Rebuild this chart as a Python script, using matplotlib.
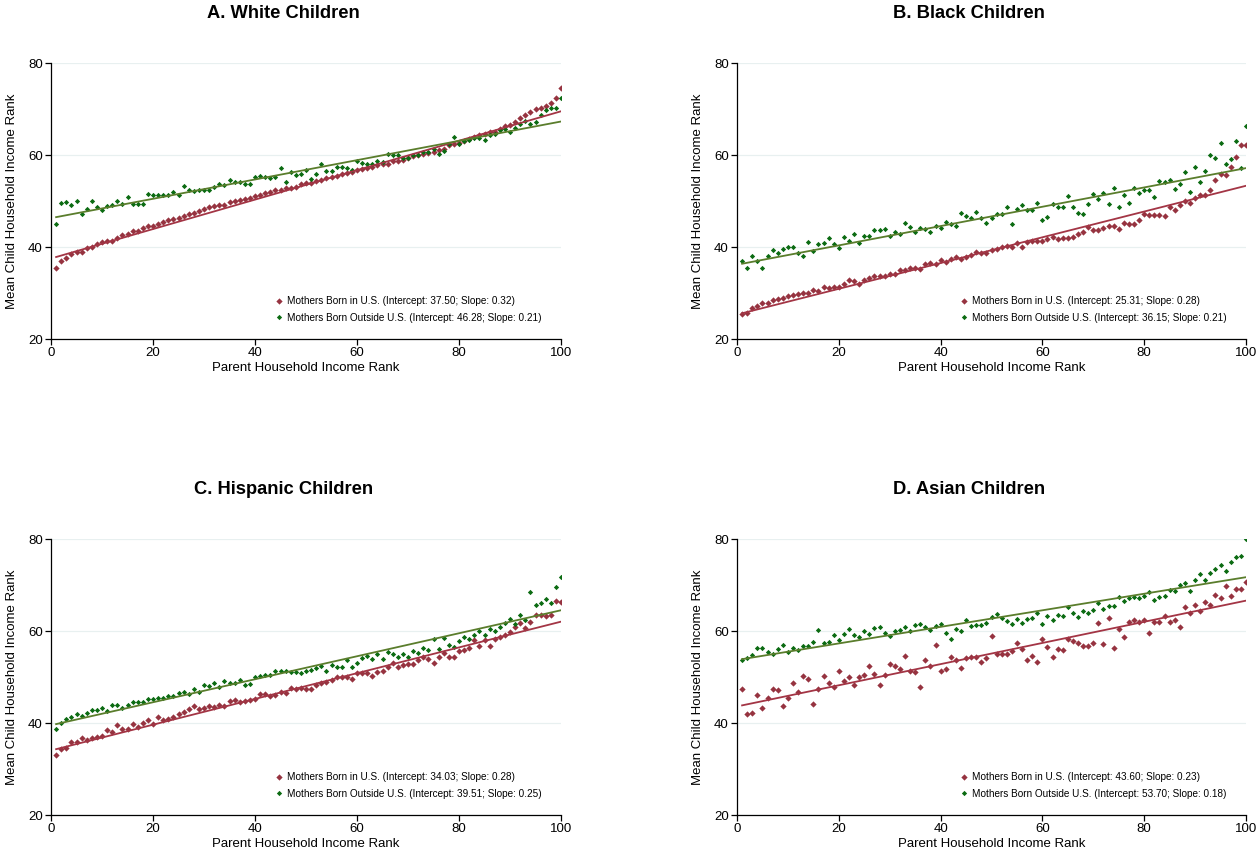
import numpy as np
import matplotlib
matplotlib.use('Agg')
import matplotlib.pyplot as plt

plt.rcParams['font.family'] = ['Liberation Sans', 'DejaVu Sans']

# parent income rank (x) is 1..100 for every series
ranks = np.arange(1, 101)

titles = ['A. White Children', 'B. Black Children', 'C. Hispanic Children', 'D. Asian Children']

# mean child household income rank, mothers born in U.S.
white_us = [35.4, 36.9, 37.7, 38.4, 38.9, 39.0, 39.7, 39.9, 40.7, 41.0,
            41.2, 41.4, 42.0, 42.6, 42.8, 43.5, 43.5, 44.1, 44.5, 44.6,
            45.0, 45.4, 45.9, 46.1, 46.4, 46.7, 47.2, 47.5, 47.8, 48.3,
            48.6, 48.9, 49.1, 49.1, 49.7, 49.9, 50.3, 50.4, 50.7, 51.1,
            51.3, 51.7, 52.0, 52.3, 52.5, 52.8, 52.9, 53.0, 53.6, 53.9,
            53.9, 54.3, 54.6, 54.9, 55.2, 55.5, 55.8, 56.1, 56.4, 56.7,
            56.9, 57.2, 57.4, 57.8, 58.0, 58.1, 58.6, 58.6, 59.0, 59.3,
            59.7, 60.0, 60.3, 60.4, 60.7, 61.0, 61.4, 62.2, 62.5, 62.6,
            63.0, 63.5, 63.9, 64.3, 64.6, 64.9, 65.1, 65.7, 66.2, 66.5,
            67.2, 68.0, 68.6, 69.3, 70.0, 70.3, 70.7, 71.3, 72.5, 74.6]
black_us = [25.4, 25.6, 26.7, 27.2, 27.8, 27.9, 28.4, 28.6, 29.0, 29.4,
            29.6, 29.7, 30.1, 29.9, 30.6, 30.4, 31.2, 31.0, 31.4, 31.4,
            32.0, 32.8, 32.6, 32.0, 32.8, 33.3, 33.8, 33.8, 33.8, 34.1,
            34.2, 35.0, 35.1, 35.4, 35.5, 35.2, 36.2, 36.5, 36.2, 37.1,
            36.8, 37.4, 37.8, 37.4, 37.8, 38.3, 39.0, 38.6, 38.7, 39.4,
            39.5, 40.0, 40.2, 39.9, 40.9, 40.1, 41.0, 41.3, 41.4, 41.3,
            41.7, 42.2, 41.7, 42.0, 41.9, 42.1, 42.8, 43.3, 44.3, 43.6,
            43.6, 44.2, 44.6, 44.5, 43.9, 45.3, 45.1, 44.9, 45.8, 47.1,
            46.9, 47.0, 47.0, 46.8, 48.6, 48.1, 49.1, 50.1, 49.6, 50.6,
            51.3, 51.3, 52.4, 54.5, 55.8, 55.7, 57.4, 59.6, 62.2, 62.2]
hispanic_us = [33.0, 34.4, 34.6, 35.9, 35.9, 36.7, 36.4, 36.7, 37.0, 37.2,
               38.4, 38.1, 39.5, 38.8, 38.8, 39.7, 39.2, 39.9, 40.6, 39.8,
               41.3, 40.6, 40.9, 41.4, 42.0, 42.3, 43.1, 43.6, 43.1, 43.2,
               43.7, 43.5, 43.9, 43.6, 44.7, 44.9, 44.5, 44.8, 45.1, 45.2,
               46.2, 46.2, 45.9, 46.0, 46.7, 46.6, 47.6, 47.3, 47.6, 47.3,
               47.4, 48.3, 48.8, 48.9, 49.3, 50.1, 49.9, 50.1, 49.5, 50.8,
               50.8, 50.9, 50.2, 51.1, 51.4, 52.2, 53.1, 52.1, 52.7, 52.8,
               52.8, 53.6, 54.3, 54.0, 53.1, 54.3, 55.3, 54.4, 54.4, 55.6,
               55.9, 56.2, 58.0, 56.7, 58.0, 56.7, 58.3, 58.8, 59.2, 59.8,
               60.9, 61.8, 60.7, 62.0, 63.4, 63.4, 63.3, 63.4, 66.6, 66.4]
asian_us = [47.3, 42.0, 42.2, 46.1, 43.2, 45.4, 47.5, 47.2, 43.6, 45.4,
            48.8, 46.7, 50.2, 49.5, 44.1, 47.5, 50.2, 48.8, 47.8, 51.2,
            49.2, 50.1, 48.2, 49.9, 50.4, 52.5, 50.7, 48.2, 50.4, 52.9,
            52.4, 51.8, 54.6, 51.3, 51.0, 47.8, 53.8, 52.4, 56.9, 51.4,
            51.7, 54.4, 53.6, 52.0, 54.2, 54.4, 54.4, 53.3, 54.2, 58.9,
            54.9, 55.1, 55.0, 55.6, 57.5, 56.0, 53.7, 54.6, 53.3, 58.2,
            56.6, 54.4, 56.0, 55.8, 58.3, 57.8, 57.5, 56.7, 56.7, 57.3,
            61.8, 57.2, 62.9, 56.2, 60.5, 58.7, 62.0, 62.4, 62.0, 62.3,
            59.5, 62.0, 62.0, 63.2, 62.0, 62.5, 60.8, 65.2, 64.0, 65.6,
            64.3, 66.2, 65.7, 67.8, 67.1, 69.8, 67.7, 69.2, 69.1, 70.7]

# mean child household income rank, mothers born outside U.S.
white_foreign = [45.1, 49.5, 49.7, 49.1, 49.9, 47.2, 48.3, 50.0, 48.7, 48.1,
                 49.0, 49.1, 49.9, 49.4, 50.9, 49.4, 49.4, 49.4, 51.6, 51.4,
                 51.2, 51.3, 51.3, 52.0, 51.4, 53.3, 52.5, 52.2, 52.5, 52.5,
                 52.3, 53.0, 53.8, 53.5, 54.5, 54.1, 54.1, 53.8, 53.6, 55.2,
                 55.5, 55.2, 55.1, 55.2, 57.1, 54.2, 56.2, 55.7, 55.8, 56.7,
                 54.8, 55.9, 58.0, 56.5, 56.5, 57.5, 57.5, 57.2, 56.8, 58.6,
                 58.3, 58.1, 58.1, 58.7, 58.4, 60.3, 60.0, 60.1, 59.3, 59.3,
                 60.0, 60.1, 60.6, 60.6, 61.4, 60.3, 60.9, 62.5, 63.9, 62.3,
                 63.0, 63.3, 63.6, 63.6, 63.3, 64.3, 64.6, 65.4, 65.7, 64.9,
                 65.8, 66.8, 67.4, 66.8, 67.2, 68.7, 69.7, 70.3, 70.3, 72.5]
black_foreign = [37.0, 35.5, 38.1, 37.0, 35.5, 38.1, 39.3, 38.6, 39.5, 39.9,
                 39.9, 38.6, 38.0, 41.0, 39.2, 40.7, 40.8, 41.9, 40.7, 39.7,
                 42.2, 41.3, 42.8, 40.8, 42.5, 42.5, 43.8, 43.6, 44.0, 42.5,
                 43.3, 42.8, 45.3, 44.3, 43.3, 44.1, 43.9, 43.3, 44.6, 44.2,
                 45.4, 45.0, 44.6, 47.3, 46.7, 46.4, 47.7, 46.2, 45.3, 46.4,
                 47.1, 47.2, 48.6, 45.1, 48.2, 49.1, 48.0, 48.0, 49.6, 45.8,
                 46.5, 49.3, 48.7, 48.7, 51.0, 48.8, 47.5, 47.2, 49.3, 51.6,
                 50.4, 51.7, 49.4, 52.8, 48.8, 51.2, 49.6, 52.8, 51.8, 52.3,
                 52.5, 50.9, 54.4, 54.1, 54.5, 52.6, 53.6, 56.4, 51.9, 57.3,
                 54.2, 56.5, 60.1, 59.3, 62.7, 58.0, 59.1, 63.0, 57.2, 66.3]
hispanic_foreign = [38.6, 40.1, 40.9, 41.2, 41.9, 41.6, 42.2, 42.8, 42.8, 43.3,
                    42.6, 44.0, 44.0, 43.2, 44.0, 44.6, 44.6, 44.6, 45.3, 45.2,
                    45.5, 45.5, 45.9, 45.9, 46.6, 46.7, 46.2, 47.5, 46.7, 48.2,
                    48.0, 48.6, 47.8, 49.2, 48.8, 48.8, 49.3, 48.3, 48.5, 50.1,
                    50.3, 50.5, 50.5, 51.4, 51.4, 51.4, 51.1, 51.1, 50.8, 51.4,
                    51.5, 52.0, 52.4, 51.4, 52.7, 52.2, 52.1, 53.7, 52.2, 53.1,
                    54.1, 54.6, 54.0, 55.1, 54.0, 55.4, 54.9, 54.4, 55.0, 54.4,
                    55.7, 55.3, 56.2, 55.9, 58.3, 56.0, 58.5, 56.9, 56.6, 57.8,
                    58.8, 58.2, 59.1, 60.1, 59.1, 60.5, 59.9, 60.9, 61.8, 62.7,
                    61.5, 63.4, 62.4, 68.5, 65.7, 66.0, 66.9, 66.0, 69.6, 71.8]
asian_foreign = [53.8, 54.2, 54.7, 56.3, 56.3, 55.5, 55.1, 56.1, 57.0, 55.5,
                 56.2, 55.8, 56.7, 56.7, 57.7, 60.2, 57.5, 57.6, 59.1, 58.0,
                 59.4, 60.5, 59.1, 58.8, 59.9, 59.4, 60.7, 60.8, 59.5, 59.0,
                 60.1, 60.2, 60.9, 60.1, 61.3, 61.5, 60.8, 60.2, 61.1, 61.5,
                 59.5, 58.3, 60.5, 60.1, 62.4, 61.1, 61.4, 61.3, 61.8, 63.0,
                 63.6, 62.8, 62.2, 61.6, 62.7, 61.8, 62.7, 62.9, 63.9, 61.6,
                 63.3, 62.5, 63.5, 63.3, 65.3, 64.0, 63.1, 64.3, 64.0, 64.6,
                 66.1, 64.7, 65.4, 65.4, 67.5, 66.5, 67.2, 67.5, 67.2, 67.6,
                 68.5, 66.8, 67.4, 67.7, 68.9, 68.8, 70.1, 70.5, 68.8, 71.1,
                 72.5, 71.1, 72.6, 73.4, 74.3, 73.1, 75.1, 76.0, 76.4, 79.9]

us_series = [white_us, black_us, hispanic_us, asian_us]
foreign_series = [white_foreign, black_foreign, hispanic_foreign, asian_foreign]

# fitted lines, as reported in the legends
us_intercepts = [37.50, 25.31, 34.03, 43.60]
us_slopes = [0.32, 0.28, 0.28, 0.23]
foreign_intercepts = [46.28, 36.15, 39.51, 53.70]
foreign_slopes = [0.21, 0.21, 0.25, 0.18]

red_pt = '#963340'
red_ln = '#a33545'
green_pt = '#0b6b12'
green_ln = '#5a7d2c'
grid_c = '#e8f0f0'

W, H = 1256, 857
fig = plt.figure(figsize=(W / 100, H / 100), dpi=100)

# axes boxes in pixels: left, right, top, bottom
boxes = [(51, 561, 63, 339), (737, 1246, 63, 339),
         (51, 561, 539, 815), (737, 1246, 539, 815)]

for i in range(4):
    l, r, t, b = boxes[i]
    ax = fig.add_axes([l / W, 1 - b / H, (r - l) / W, (b - t) / H])

    ax.plot(ranks, us_series[i], linestyle='none', marker='D', markersize=3.2,
            color=red_pt, markeredgewidth=0,
            label='Mothers Born in U.S. (Intercept: %.2f; Slope: %.2f)' % (us_intercepts[i], us_slopes[i]))
    ax.plot(ranks, foreign_series[i], linestyle='none', marker='D', markersize=2.7,
            color=green_pt, markeredgewidth=0,
            label='Mothers Born Outside U.S. (Intercept: %.2f; Slope: %.2f)' % (foreign_intercepts[i], foreign_slopes[i]))
    ax.plot(ranks, us_intercepts[i] + us_slopes[i] * ranks, color=red_ln, lw=1.3)
    ax.plot(ranks, foreign_intercepts[i] + foreign_slopes[i] * ranks, color=green_ln, lw=1.3)

    ax.set_xlim(0, 100)
    ax.set_ylim(20, 80)
    ax.set_xticks([0, 20, 40, 60, 80, 100])
    ax.set_yticks([20, 40, 60, 80])
    ax.grid(axis='y', color=grid_c, lw=0.9)
    ax.set_axisbelow(True)
    for s in ['top', 'right']:
        ax.spines[s].set_visible(False)
    ax.spines['left'].set_linewidth(0.9)
    ax.spines['bottom'].set_linewidth(0.9)
    ax.tick_params(labelsize=9.5, length=4, width=0.9, pad=2)
    ax.set_xlabel('Parent Household Income Rank', fontsize=9.5)
    ax.set_ylabel('Mean Child Household Income Rank', fontsize=9.5)
    ax.xaxis.set_label_coords(0.5, -0.083)
    ax.yaxis.set_label_coords(-0.064, 0.5)

    ax.legend(loc='lower left', bbox_to_anchor=(0.43, 0.04), frameon=False,
              fontsize=7.2, handlelength=0.7, handletextpad=0.45,
              labelspacing=0.65, borderpad=0, markerscale=1.0)

    # panel titles sit centred over the whole panel, label column included
    fig.text(((l + r) / 2 - 22.5) / W, 1 - (t - 50) / H, titles[i], ha='center', va='center',
             fontsize=13.2, fontweight='bold')

plt.savefig('out.png', dpi=100)
